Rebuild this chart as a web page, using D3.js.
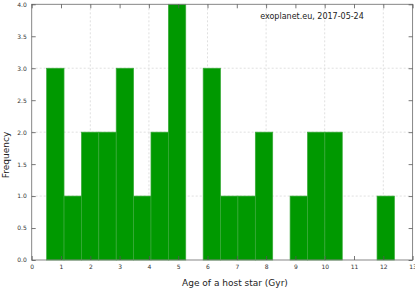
<!DOCTYPE html>
<html><head><meta charset="utf-8">
<script src="https://cdn.jsdelivr.net/npm/d3@7"></script>
<style>body{margin:0;background:#fff}svg{display:block}text{font-family:"DejaVu Sans",sans-serif}</style>
</head><body><svg id="c" width="415" height="288"></svg>
<script>
const binStart = 0.51, binWidth = 0.5935;
const counts = [3,1,2,2,3,1,2,4,0,3,1,1,2,0,1,2,2,0,0,1];
const xTicks = [0,1,2,3,4,5,6,7,8,9,10,11,12,13];
const yTicks = [0,0.5,1,1.5,2,2.5,3,3.5,4];
const xGrid = [2,4,6,8,10,12];
const yGrid = [1,2,3];
const bins = counts.map((c,i)=>({x0: binStart + i*binWidth, x1: binStart + (i+1)*binWidth, c}));

const svg = d3.select("#c");
const L=31.7, R=412.6, T=4.3, B=260;
const x = d3.scaleLinear().domain([0,13]).range([L,R]);
const y = d3.scaleLinear().domain([0,4]).range([B,T]);

const g = svg.append("g");
g.selectAll(".vg").data(xGrid).join("line").attr("x1",d=>x(d)).attr("x2",d=>x(d)).attr("y1",T).attr("y2",B)
 .attr("stroke","#d8d8d8").attr("stroke-width",0.8).attr("stroke-dasharray","2,2");
g.selectAll(".hg").data(yGrid).join("line").attr("y1",d=>y(d)).attr("y2",d=>y(d)).attr("x1",L).attr("x2",R)
 .attr("stroke","#d8d8d8").attr("stroke-width",0.8).attr("stroke-dasharray","2,2");

g.selectAll(".bar").data(bins.filter(b=>b.c>0)).join("rect")
 .attr("x",d=>x(d.x0)).attr("width",d=>x(d.x1)-x(d.x0))
 .attr("y",d=>y(d.c)).attr("height",d=>y(0)-y(d.c))
 .attr("fill","#009900").attr("stroke","#3aaa3a").attr("stroke-width",0.7);

// spines
g.append("rect").attr("x",L).attr("y",T).attr("width",R-L).attr("height",B-T)
 .attr("fill","none").attr("stroke","#7a7a7a").attr("stroke-width",0.9);

const tl=4;
const fmtY = d3.format(".1f");
const ax = d3.axisBottom(x).tickValues(xTicks).tickSizeInner(-tl).tickSizeOuter(0).tickPadding(5).tickFormat(d3.format("d"));
const axB = g.append("g").attr("transform",`translate(0,${B})`).call(ax);
const axT = g.append("g").attr("transform",`translate(0,${T})`).call(d3.axisTop(x).tickValues(xTicks).tickSizeInner(-tl).tickSizeOuter(0).tickFormat(""));
const axL = g.append("g").attr("transform",`translate(${L},0)`).call(d3.axisLeft(y).tickValues(yTicks).tickSizeInner(-tl).tickSizeOuter(0).tickPadding(5).tickFormat(fmtY));
const axR = g.append("g").attr("transform",`translate(${R},0)`).call(d3.axisRight(y).tickValues(yTicks).tickSizeInner(-tl).tickSizeOuter(0).tickFormat(""));
[axB,axT,axL,axR].forEach(a=>{
  a.select(".domain").remove();
  a.selectAll(".tick line").attr("stroke","#555").attr("stroke-width",0.8);
  a.selectAll("text").attr("font-size",6).attr("fill","#333").attr("font-family","DejaVu Sans");
});

svg.append("text").attr("x",312).attr("y",19).attr("text-anchor","middle").attr("font-size",8).attr("fill","#222")
 .text("exoplanet.eu, 2017-05-24");
svg.append("text").attr("x",235).attr("y",286).attr("text-anchor","middle").attr("font-size",9).attr("fill","#222")
 .text("Age of a host star (Gyr)");
svg.append("text").attr("transform","translate(9,155) rotate(-90)").attr("text-anchor","middle").attr("font-size",9).attr("fill","#222")
 .text("Frequency");
</script></body></html>
